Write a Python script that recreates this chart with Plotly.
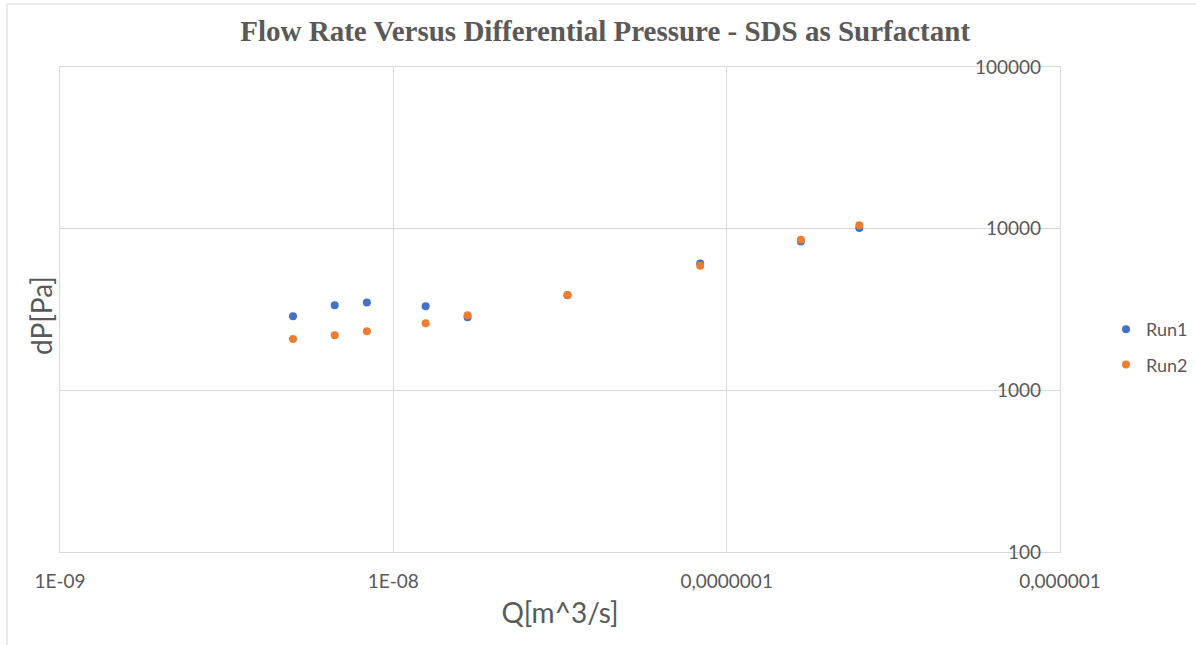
import plotly.graph_objects as go

q_run1 = [5e-9, 6.67e-9, 8.33e-9, 1.25e-8, 1.67e-8, 3.33e-8, 8.33e-8, 1.67e-7, 2.5e-7]
dp_run1 = [2870, 3360, 3490, 3310, 2830, 3870, 6080, 8320, 10100]
q_run2 = [5e-9, 6.67e-9, 8.33e-9, 1.25e-8, 1.67e-8, 3.33e-8, 8.33e-8, 1.67e-7, 2.5e-7]
dp_run2 = [2080, 2190, 2320, 2600, 2910, 3890, 5890, 8530, 10500]

x_tickvals = [1e-9, 1e-8, 1e-7, 1e-6]
x_ticktext = ["1E-09", "1E-08", "0,0000001", "0,000001"]
y_tickvals = [100, 1000, 10000, 100000]
y_ticktext = ["100", "1000", "10000", "100000"]

grid = "#d9d9d9"
txt = "#595959"
eps = 1e-6

fig = go.Figure()
fig.add_trace(go.Scatter(x=q_run1, y=dp_run1, mode="markers", name="Run1", legendgroup="a",
                         marker=dict(color="#4472C4", size=8)))
fig.add_trace(go.Scatter(x=q_run2, y=dp_run2, mode="markers", name="Run2", legendgroup="b",
                         marker=dict(color="#ED7D31", size=8)))
# empty helper trace so the label axis is drawn
fig.add_trace(go.Scatter(x=[], y=[], yaxis="y2", showlegend=False, hoverinfo="skip"))

fig.update_layout(
    width=1196, height=645,
    margin=dict(l=60, r=136, t=67, b=93, autoexpand=False),
    paper_bgcolor="white", plot_bgcolor="white",
    font=dict(family="Lato", color=txt),
    title=dict(text="<b>Flow Rate Versus Differential Pressure - SDS as Surfactant</b>",
               font=dict(family="Liberation Serif", size=29, color=txt),
               x=0.506, xref="container", xanchor="center",
               y=1 - 31 / 645, yref="container", yanchor="middle"),
    legend=dict(x=1.046, xanchor="left", y=(552 - 347) / 485, yanchor="middle",
                font=dict(size=18, color=txt), tracegroupgap=9, traceorder="grouped"),
    shapes=[
        dict(type="line", xref="paper", yref="paper", x0=-0.053, x1=-0.053, y0=-0.2, y1=1.13,
             line=dict(color=grid, width=1)),
        dict(type="line", xref="paper", yref="paper", x0=-0.053, x1=1.14, y0=1.13, y1=1.13,
             line=dict(color=grid, width=1)),
    ],
    yaxis2=dict(type="log", range=[2 - eps, 5 + eps], overlaying="y", side="left",
                anchor="free", position=(1041 - 60) / 1000,
                tickvals=y_tickvals, ticktext=y_ticktext, showgrid=False, zeroline=False,
                showline=False, ticks="", automargin=False,
                tickfont=dict(size=19, color=txt)),
)

fig.update_xaxes(type="log", range=[-9 - eps, -6 + eps], tickvals=x_tickvals, ticktext=x_ticktext,
                 showgrid=True, gridcolor=grid, gridwidth=1, zeroline=False,
                 showline=True, linecolor=grid, mirror=True, automargin=False,
                 tickfont=dict(size=19, color=txt), ticks="", ticklabelstandoff=12,
                 title=dict(text="Q[m^3/s]", font=dict(size=28, color=txt), standoff=12))
fig.layout.yaxis.update(type="log", range=[2 - eps, 5 + eps], tickvals=y_tickvals,
                        showticklabels=False,
                        showgrid=True, gridcolor=grid, gridwidth=1, zeroline=False,
                        showline=True, linecolor=grid, mirror=True, ticks="", automargin=False)

fig.add_annotation(text="dP[Pa]", xref="paper", yref="paper", x=(41 - 60) / 1000, y=(552 - 316) / 485,
                   showarrow=False, textangle=-90, font=dict(size=28, color=txt),
                   xanchor="center", yanchor="middle")

fig.write_html("out.html")
